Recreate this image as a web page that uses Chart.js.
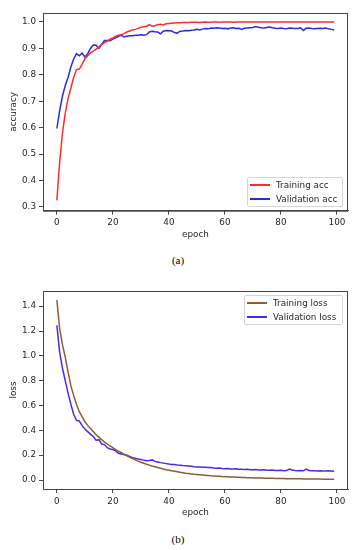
<!DOCTYPE html>
<html>
<head>
<meta charset="utf-8">
<script src="https://cdn.jsdelivr.net/npm/chart.js@4.4.0/dist/chart.umd.min.js"></script>
<style>
  body { margin: 0; background: #fff; }
  #wrap { position: relative; width: 360px; height: 550px; overflow: hidden; }
  canvas { position: absolute; left: 0; }
  .cap { position: absolute; left: 0; width: 356px; text-align: center;
         font-family: "Liberation Serif", serif; font-size: 11px; color: #000; }
  .legend { position: absolute; background: rgba(255,255,255,0.9); border: 1px solid #d6d6d6;
            border-radius: 2px; box-sizing: border-box; font-family: "DejaVu Sans", sans-serif;
            font-size: 8.8px; color: #262626; }
  .legend .row { height: 14px; display: flex; align-items: center; white-space: nowrap; }
  .legend .swatch { display: inline-block; width: 20px; height: 1.5px; margin: 0 6px 0 2px; }
</style>
</head>
<body>
<div id="wrap">
  <canvas id="accChart" style="top:0px"></canvas>
  <div class="legend" id="accLegend" style="left:247px; top:177px; width:96px; height:30px;"></div>
  <div class="cap" style="top:254px">(a)</div>

  <canvas id="lossChart" style="top:280px"></canvas>
  <div class="legend" id="lossLegend" style="left:244px; top:295px; width:99px; height:30px;"></div>
  <div class="cap" style="top:533px">(b)</div>
</div>
<script>
// エポック番号 (0〜99)
const epochs = Array.from({ length: 100 }, (_, i) => i);

// 精度
const trainAcc = [
  0.325, 0.47, 0.58, 0.655, 0.71, 0.75, 0.79, 0.82, 0.822, 0.84,
  0.86, 0.872, 0.883, 0.89, 0.897, 0.905, 0.915, 0.922, 0.928, 0.935,
  0.94, 0.946, 0.95, 0.952, 0.956, 0.962, 0.966, 0.97, 0.972, 0.976,
  0.98, 0.982, 0.984, 0.99, 0.984, 0.986, 0.99, 0.991, 0.989, 0.993,
  0.994, 0.995, 0.996, 0.997, 0.997, 0.998, 0.998, 0.998, 0.999, 0.999,
  0.999, 0.998, 0.999, 1.0, 0.999, 0.999, 1.0, 1.0, 0.999, 1.0,
  1.0, 1.0, 1.0, 0.999, 1.0, 1.0, 1.0, 1.0, 1.0, 1.0,
  1.0, 1.0, 1.0, 1.0, 1.0, 1.0, 1.0, 1.0, 1.0, 1.0,
  1.0, 1.0, 1.0, 1.0, 1.0, 1.0, 1.0, 1.0, 1.0, 1.0,
  1.0, 1.0, 1.0, 1.0, 1.0, 1.0, 1.0, 1.0, 1.0, 1.0
];
const valAcc = [
  0.597, 0.665, 0.72, 0.76, 0.79, 0.83, 0.86, 0.88, 0.872, 0.882,
  0.868, 0.88, 0.9, 0.913, 0.912, 0.9, 0.915, 0.93, 0.93, 0.929,
  0.935, 0.94, 0.946, 0.95, 0.943, 0.946, 0.948, 0.948, 0.95, 0.95,
  0.952, 0.95, 0.952, 0.962, 0.965, 0.963, 0.962, 0.955, 0.965, 0.968,
  0.967, 0.966, 0.96, 0.958, 0.965, 0.966, 0.968, 0.967, 0.969, 0.97,
  0.972, 0.97, 0.973, 0.975, 0.974, 0.977, 0.976, 0.978, 0.977, 0.975,
  0.976, 0.974, 0.977, 0.978, 0.975, 0.976, 0.972, 0.976, 0.977, 0.978,
  0.979, 0.983, 0.98, 0.978, 0.977, 0.979, 0.981, 0.978, 0.976, 0.975,
  0.977, 0.975, 0.974, 0.977, 0.976, 0.975, 0.975, 0.978, 0.968, 0.976,
  0.977, 0.975, 0.974, 0.975, 0.976, 0.975, 0.977, 0.974, 0.972, 0.97
];

// 損失
const trainLoss = [
  1.45, 1.22, 1.09, 0.99, 0.87, 0.76, 0.68, 0.61, 0.55, 0.51,
  0.47, 0.44, 0.415, 0.39, 0.365, 0.345, 0.325, 0.305, 0.29, 0.275,
  0.26, 0.245, 0.232, 0.22, 0.207, 0.195, 0.183, 0.172, 0.162, 0.152,
  0.143, 0.135, 0.127, 0.12, 0.113, 0.107, 0.1, 0.094, 0.088, 0.083,
  0.079, 0.074, 0.07, 0.066, 0.062, 0.059, 0.055, 0.052, 0.049, 0.046,
  0.044, 0.042, 0.04, 0.038, 0.036, 0.034, 0.033, 0.031, 0.03, 0.028,
  0.027, 0.026, 0.025, 0.024, 0.023, 0.022, 0.021, 0.02, 0.019, 0.019,
  0.018, 0.017, 0.017, 0.016, 0.015, 0.015, 0.014, 0.014, 0.013, 0.013,
  0.012, 0.012, 0.011, 0.011, 0.011, 0.01, 0.01, 0.01, 0.009, 0.009,
  0.009, 0.008, 0.008, 0.008, 0.008, 0.007, 0.007, 0.007, 0.007, 0.006
];
const valLoss = [
  1.245, 1.03, 0.9, 0.8, 0.7, 0.61, 0.53, 0.48, 0.475, 0.44,
  0.41, 0.39, 0.37, 0.35, 0.32, 0.325, 0.29, 0.285, 0.26, 0.25,
  0.245, 0.235, 0.215, 0.21, 0.205, 0.2, 0.19, 0.18, 0.175, 0.17,
  0.165, 0.16, 0.155, 0.158, 0.162, 0.15, 0.145, 0.14, 0.136, 0.132,
  0.128, 0.125, 0.124, 0.12, 0.118, 0.116, 0.115, 0.113, 0.11, 0.107,
  0.105, 0.104, 0.103, 0.102, 0.1, 0.1, 0.097, 0.095, 0.096, 0.092,
  0.091, 0.093, 0.089, 0.088, 0.09, 0.087, 0.086, 0.085, 0.086, 0.083,
  0.082, 0.084, 0.081, 0.08, 0.082, 0.079, 0.078, 0.08, 0.077, 0.076,
  0.078, 0.075, 0.076, 0.088, 0.08, 0.076, 0.075, 0.077, 0.074, 0.088,
  0.076, 0.074, 0.075, 0.073, 0.074, 0.073, 0.072, 0.074, 0.073, 0.071
];

// 目盛り
const xTicks = [0, 20, 40, 60, 80, 100];
const accTicks = [0.3, 0.4, 0.5, 0.6, 0.7, 0.8, 0.9, 1.0];
const lossTicks = [0.0, 0.2, 0.4, 0.6, 0.8, 1.0, 1.2, 1.4];

const FONT = { family: "DejaVu Sans", size: 8.8 };
const TEXT_COLOR = "#262626";
const AXIS_COLOR = "#444";

// 枠線（上と右も描く）
const framePlugin = {
    id: "frame",
    afterDraw(chart) {
        const { ctx, chartArea: a } = chart;
        ctx.save();
        ctx.strokeStyle = AXIS_COLOR;
        ctx.lineWidth = 1;
        ctx.strokeRect(a.left + 0.5, a.top + 0.5, a.right - a.left - 1, a.bottom - a.top);
        ctx.restore();
    },
};

function toPoints(values) {
    return values.map((v, i) => ({ x: epochs[i], y: v }));
}

function make_chart(id, cfg) {
    const $canvas = document.querySelector(id);
    $canvas.width = 360;
    $canvas.height = 245;
    $canvas.style.width = "360px";
    $canvas.style.height = "245px";

    const ticksY = cfg.yTicks;
    return new Chart($canvas.getContext("2d"), {
        type: "line",
        data: {
            datasets: cfg.series.map((s) => ({
                label: s.label,
                data: toPoints(s.values),
                borderColor: s.color,
                borderWidth: 1.5,
                pointRadius: 0,
                tension: 0,
                fill: false,
            })),
        },
        plugins: [framePlugin],
        options: {
            responsive: false,
            animation: false,
            events: [],
            layout: { padding: { left: 0, top: cfg.top, right: 12, bottom: 0 } },
            plugins: { legend: { display: false }, tooltip: { enabled: false } },
            scales: {
                x: {
                    type: "linear",
                    min: -4.95,
                    max: 103.95,
                    afterFit: (scale) => { scale.height = cfg.xHeight; },
                    afterBuildTicks: (scale) => { scale.ticks = xTicks.map((v) => ({ value: v })); },
                    ticks: { font: FONT, color: TEXT_COLOR, padding: 3, maxRotation: 0,
                             callback: (v) => String(v) },
                    grid: { drawOnChartArea: false, drawTicks: true, tickLength: 4, color: AXIS_COLOR },
                    border: { display: true, color: AXIS_COLOR },
                    title: { display: true, text: "epoch", font: FONT, color: TEXT_COLOR,
                             padding: { top: 0, bottom: cfg.titlePad } },
                },
                y: {
                    type: "linear",
                    min: cfg.yMin,
                    max: cfg.yMax,
                    afterFit: (scale) => { scale.width = 43; },
                    afterBuildTicks: (scale) => { scale.ticks = ticksY.map((v) => ({ value: v })); },
                    ticks: { font: FONT, color: TEXT_COLOR, padding: 3,
                             callback: (v) => Number(v).toFixed(1) },
                    grid: { drawOnChartArea: false, drawTicks: true, tickLength: 4, color: AXIS_COLOR },
                    border: { display: true, color: AXIS_COLOR },
                    title: { display: true, text: cfg.yTitle, font: FONT, color: TEXT_COLOR,
                             padding: { top: 8, bottom: 0 } },
                },
            },
        },
    });
}

// 凡例をHTMLで作る
function make_legend(chart, id) {
    const $el = document.querySelector(id);
    chart.data.datasets.forEach((ds) => {
        const row = document.createElement("div");
        row.className = "row";
        const sw = document.createElement("span");
        sw.className = "swatch";
        sw.style.background = ds.borderColor;
        const txt = document.createElement("span");
        txt.textContent = ds.label;
        row.appendChild(sw);
        row.appendChild(txt);
        $el.appendChild(row);
    });
}

const accChart = make_chart("#accChart", {
    top: 13, xHeight: 34.3, titlePad: 5,
    yMin: 0.286, yMax: 1.034, yTicks: accTicks, yTitle: "accuracy",
    series: [
        { label: "Training acc", values: trainAcc, color: "#ff2a2a" },
        { label: "Validation acc", values: valAcc, color: "#2a2ae6" },
    ],
});
make_legend(accChart, "#accLegend");

const lossChart = make_chart("#lossChart", {
    top: 11, xHeight: 36, titlePad: 7,
    yMin: -0.0725, yMax: 1.5225, yTicks: lossTicks, yTitle: "loss",
    series: [
        { label: "Training loss", values: trainLoss, color: "#8b5e34" },
        { label: "Validation loss", values: valLoss, color: "#4a28f0" },
    ],
});
make_legend(lossChart, "#lossLegend");
</script>
</body>
</html>
